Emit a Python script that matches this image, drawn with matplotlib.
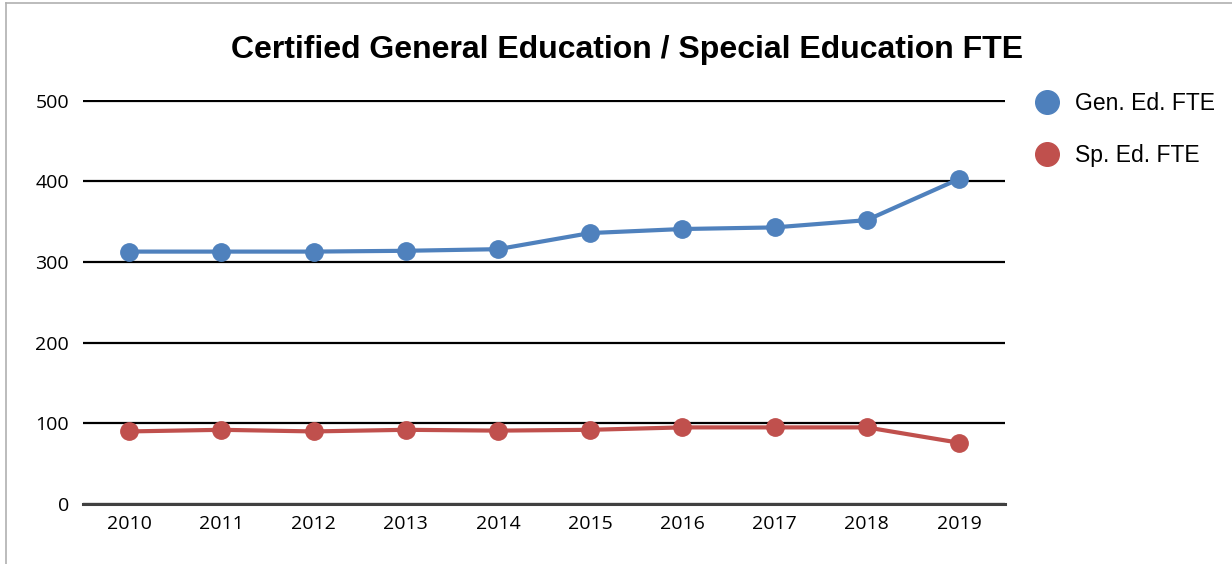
import numpy as np
import matplotlib.pyplot as plt
from matplotlib.lines import Line2D

# data
years = ['2010', '2011', '2012', '2013', '2014', '2015', '2016', '2017', '2018', '2019']
gen_ed = [313, 313, 313, 314, 316, 336, 341, 343, 352, 403]
sp_ed = [90, 92, 90, 92, 91, 92, 95, 95, 95, 76]
series_names = ['Gen. Ed. FTE', 'Sp. Ed. FTE']
series_colors = ['#4F81BD', '#C0504D']

fig = plt.figure(figsize=(12.32, 5.64), dpi=100)
ax = fig.add_axes([83/1232, 1 - 504/564, (1005-83)/1232, (504-100)/564])

x = np.arange(len(years))
for vals, name, col in zip([gen_ed, sp_ed], series_names, series_colors):
    ax.plot(x, vals, color=col, linewidth=3, marker='o', markersize=12.5,
            label=name, zorder=3, clip_on=False)

ax.set_xlim(-0.5, len(years) - 0.5)
ax.set_ylim(0, 501)
ax.set_yticks(range(0, 501, 100))
ax.set_xticks(x)
ax.set_xticklabels(years, fontsize=14, family='Open Sans')
ax.tick_params(axis='y', labelsize=14, length=0, pad=10)
ax.tick_params(axis='x', length=0, pad=8)
for lbl in ax.get_yticklabels():
    lbl.set_family('Open Sans')

ax.grid(axis='y', color='black', linewidth=1.6)
ax.set_axisbelow(True)
for side in ['top', 'right', 'left']:
    ax.spines[side].set_visible(False)
ax.spines['bottom'].set_color('#404040')
ax.spines['bottom'].set_linewidth(2.2)

fig.text(627/1232, 1 - 50/564, 'Certified General Education / Special Education FTE',
         ha='center', va='center', fontsize=23, fontweight='bold',
         family='Liberation Sans')

handles = [Line2D([], [], linestyle='', marker='o', markersize=17, color=c)
           for c in series_colors]
fig.legend(handles, series_names, loc='upper left',
           bbox_to_anchor=(1013/1232, 1 - 81/564), frameon=False,
           prop={'family': 'Liberation Sans', 'size': 16.5},
           handletextpad=0.2, labelspacing=1.25, borderpad=0)

# thin grey border at top and left like the original screenshot
fig.add_artist(Line2D([6/1232, 6/1232], [0, 1 - 3/564], color='#b0b0b0', linewidth=1.2))
fig.add_artist(Line2D([6/1232, 1], [1 - 3/564, 1 - 3/564], color='#b0b0b0', linewidth=1.2))

fig.savefig('out.png', dpi=100)
